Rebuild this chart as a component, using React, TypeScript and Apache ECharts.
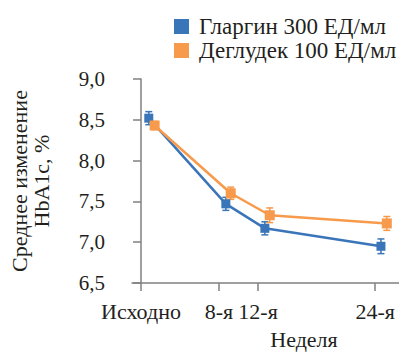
import React, { useEffect, useRef } from "react";
import * as echarts from "echarts";

const seriesNames = ["Гларгин 300 ЕД/мл", "Деглудек 100 ЕД/мл"];
const weekTicks = [0, 8, 12, 24];
const weekLabels = ["Исходно", "8-я", "12-я", "24-я"];
const glarginX = [0.8, 8.7, 12.7, 24.6];
const glarginY = [8.52, 7.47, 7.17, 6.95];
const glarginErr = [0.08, 0.08, 0.08, 0.09];
const degludecX = [1.4, 9.2, 13.2, 25.2];
const degludecY = [8.43, 7.6, 7.33, 7.23];
const degludecErr = [0.05, 0.075, 0.09, 0.085];

const BLUE = "#3a75b9";
const ORANGE = "#f79a4b";
const FONT = "Liberation Serif";
const TEXT = "#231f20";

function errData(xs: number[], ys: number[], es: number[]) {
  return xs.map((x, i) => [x, ys[i] - es[i], ys[i] + es[i]]);
}

function errSeries(name: string, xs: number[], ys: number[], es: number[], color: string) {
  return {
    type: "custom",
    name,
    z: 3,
    data: errData(xs, ys, es),
    renderItem: (params: any, api: any) => {
      const x = api.value(0);
      const lo = api.coord([x, api.value(1)]);
      const hi = api.coord([x, api.value(2)]);
      const hw = 3.5;
      const style = { stroke: color, lineWidth: 1.5 };
      return {
        type: "group",
        children: [
          { type: "line", shape: { x1: lo[0], y1: lo[1], x2: hi[0], y2: hi[1] }, style },
          { type: "line", shape: { x1: lo[0] - hw, y1: lo[1], x2: lo[0] + hw, y2: lo[1] }, style },
          { type: "line", shape: { x1: hi[0] - hw, y1: hi[1], x2: hi[0] + hw, y2: hi[1] }, style },
        ],
      };
    },
  };
}

export default function App() {
  const ref = useRef<HTMLDivElement>(null);
  useEffect(() => {
    const chart = echarts.init(ref.current!, null, { renderer: "svg" });
    const axisColor = "#808080";
    chart.setOption({
      animation: false,
      textStyle: { fontFamily: FONT },
      grid: { left: 131, right: 0, top: 79, bottom: 69, containLabel: false },
      legend: {
        data: seriesNames.map((n) => ({ name: n, icon: "rect" })),
        orient: "vertical",
        left: 169,
        top: 10,
        itemWidth: 15,
        itemHeight: 15,
        itemGap: 1,
        textStyle: { fontFamily: FONT, fontSize: 23, lineHeight: 23, color: TEXT, padding: [0, 0, 0, 5] },
      },
      xAxis: {
        type: "value",
        min: -0.92,
        max: 26.45,
        splitLine: { show: false },
        axisLine: { show: true, lineStyle: { color: axisColor, width: 1.5 } },
        axisTick: { show: true, length: 8, customValues: weekTicks, lineStyle: { color: axisColor, width: 1.5 } },
        axisLabel: {
          customValues: weekTicks,
          margin: 17,
          fontFamily: FONT,
          fontSize: 22,
          color: TEXT,
          formatter: (v: number) => weekLabels[weekTicks.indexOf(v)] ?? "",
        },
      },
      yAxis: {
        type: "value",
        min: 6.5,
        max: 9.0,
        interval: 0.5,
        splitLine: { show: false },
        axisLine: { show: true, lineStyle: { color: axisColor, width: 1.5 } },
        axisTick: { show: true, length: 8, lineStyle: { color: axisColor, width: 1.5 } },
        axisLabel: {
          margin: 27,
          fontFamily: FONT,
          fontSize: 21,
          color: TEXT,
          formatter: (v: number) => v.toFixed(1).replace(".", ","),
        },
        name: "Среднее изменение\nHbA1c, %",
        nameLocation: "middle",
        nameRotate: 90,
        nameGap: 80,
        nameTextStyle: { fontFamily: FONT, fontSize: 22, color: TEXT, lineHeight: 22 },
      },
      graphic: [
        {
          type: "text",
          x: 304,
          y: 339,
          style: {
            text: "Неделя",
            font: `22px "${FONT}"`,
            fill: TEXT,
            align: "center",
            verticalAlign: "middle",
          },
        },
      ],
      series: [
        errSeries("errG", glarginX, glarginY, glarginErr, BLUE),
        errSeries("errD", degludecX, degludecY, degludecErr, ORANGE),
        {
          type: "line",
          name: seriesNames[0],
          data: glarginX.map((x, i) => [x, glarginY[i]]),
          symbol: "rect",
          symbolSize: 9,
          z: 4,
          itemStyle: { color: BLUE },
          lineStyle: { color: BLUE, width: 2.5 },
        },
        {
          type: "line",
          name: seriesNames[1],
          data: degludecX.map((x, i) => [x, degludecY[i]]),
          symbol: "rect",
          symbolSize: 10,
          z: 4,
          itemStyle: { color: ORANGE },
          lineStyle: { color: ORANGE, width: 2.5 },
        },
      ],
    });
    return () => chart.dispose();
  }, []);
  return <div ref={ref} style={{ width: 399, height: 352, position: "absolute", left: 0, top: 0 }} />;
}
